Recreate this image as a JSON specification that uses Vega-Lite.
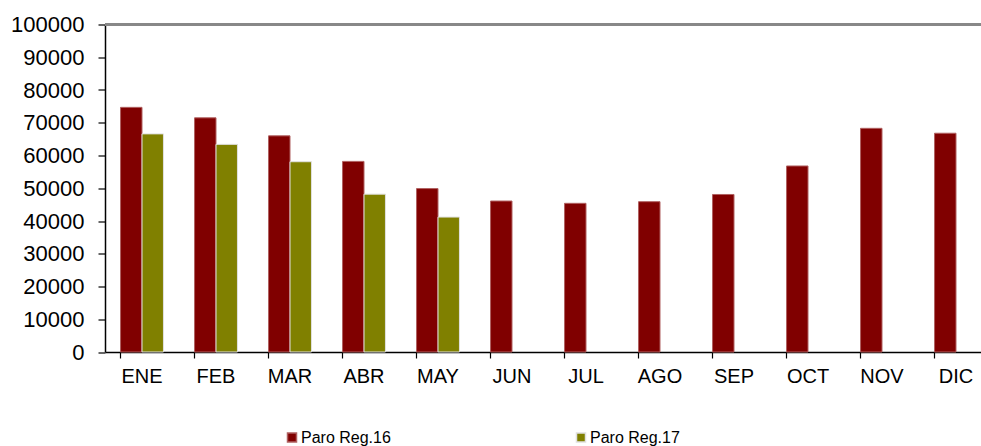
{
  "$schema": "https://vega.github.io/schema/vega-lite/v6.json",
  "width": 876,
  "height": 327.5,
  "autosize": "none",
  "padding": {"left": 105, "top": 24.5, "right": 0, "bottom": 94},
  "background": "white",
  "config": {
    "view": {"stroke": null},
    "font": "Liberation Sans",
    "axis": {"labelFont": "Liberation Sans", "labelColor": "black", "domainColor": "black", "tickColor": "black", "grid": false, "title": null}
  },
  "data": {
    "values": [
      {"mes": "ENE", "serie": "Paro Reg.16", "valor": 74700},
      {"mes": "FEB", "serie": "Paro Reg.16", "valor": 71500},
      {"mes": "MAR", "serie": "Paro Reg.16", "valor": 66000},
      {"mes": "ABR", "serie": "Paro Reg.16", "valor": 58200},
      {"mes": "MAY", "serie": "Paro Reg.16", "valor": 49900},
      {"mes": "JUN", "serie": "Paro Reg.16", "valor": 46100},
      {"mes": "JUL", "serie": "Paro Reg.16", "valor": 45400},
      {"mes": "AGO", "serie": "Paro Reg.16", "valor": 45900},
      {"mes": "SEP", "serie": "Paro Reg.16", "valor": 48100},
      {"mes": "OCT", "serie": "Paro Reg.16", "valor": 56800},
      {"mes": "NOV", "serie": "Paro Reg.16", "valor": 68300},
      {"mes": "DIC", "serie": "Paro Reg.16", "valor": 66800},
      {"mes": "ENE", "serie": "Paro Reg.17", "valor": 66600},
      {"mes": "FEB", "serie": "Paro Reg.17", "valor": 63400},
      {"mes": "MAR", "serie": "Paro Reg.17", "valor": 58100},
      {"mes": "ABR", "serie": "Paro Reg.17", "valor": 48200},
      {"mes": "MAY", "serie": "Paro Reg.17", "valor": 41200}
    ]
  },
  "resolve": {"scale": {"y": "independent"}, "axis": {"y": "independent"}},
  "layer": [
    {
      "mark": {"type": "bar", "strokeWidth": 1},
      "encoding": {
        "x": {
          "field": "mes", "type": "nominal", "sort": null,
          "scale": {"domain": ["ENE","FEB","MAR","ABR","MAY","JUN","JUL","AGO","SEP","OCT","NOV","DIC"], "range": [0, 888], "paddingInner": 0.42, "paddingOuter": 0.21},
          "axis": {"labelAngle": 0, "labelFontSize": 20, "bandPosition": 0, "tickSize": 6, "labelPadding": 8, "domainWidth": 1.5, "tickWidth": 1.2}
        },
        "xOffset": {"field": "serie", "type": "nominal", "scale": {"domain": ["Paro Reg.16", "Paro Reg.17"], "paddingInner": 0, "paddingOuter": 0}},
        "y": {
          "field": "valor", "type": "quantitative",
          "scale": {"domain": [0, 100000], "nice": false},
          "axis": {"values": [0,10000,20000,30000,40000,50000,60000,70000,80000,90000,100000], "format": "d", "labelOverlap": false, "labelFontSize": 22, "tickSize": 7, "labelPadding": 14, "domainWidth": 1.5, "tickWidth": 1.2}
        },
        "color": {
          "field": "serie", "type": "nominal",
          "scale": {"domain": ["Paro Reg.16", "Paro Reg.17"], "range": ["#800000", "#808000"]},
          "legend": {"orient": "none", "legendX": 179, "legendY": 405, "direction": "horizontal", "title": null, "symbolType": "square", "symbolSize": 81, "symbolStrokeWidth": 1.5, "labelFontSize": 16, "labelColor": "black", "labelOffset": 1, "columnPadding": 182, "columns": 2}
        },
        "stroke": {
          "field": "serie", "type": "nominal",
          "scale": {"domain": ["Paro Reg.16", "Paro Reg.17"], "range": ["#b06060", "#e0e0e0"]}
        }
      }
    },
    {
      "mark": {"type": "rule", "color": "#888888", "strokeWidth": 1.5},
      "encoding": {"y": {"datum": 100000, "type": "quantitative", "scale": {"domain": [0, 100000]}, "axis": null}}
    }
  ]
}
